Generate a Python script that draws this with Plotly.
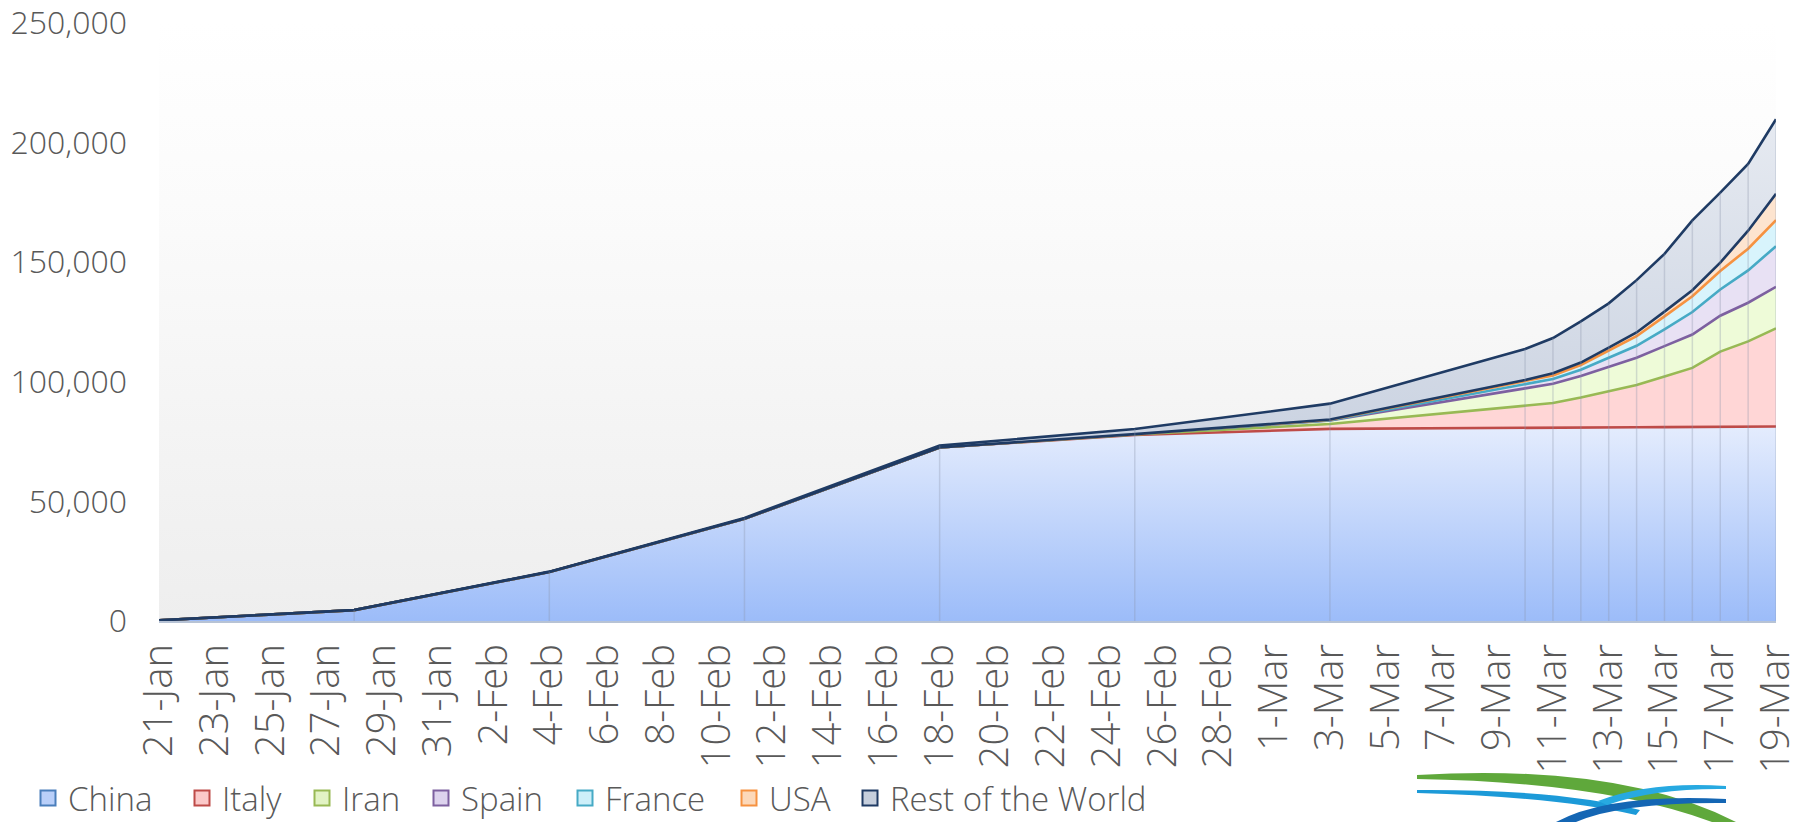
import plotly.graph_objects as go

# ---------------- data ----------------
dates = ["2020-01-21", "2020-01-28", "2020-02-04", "2020-02-11", "2020-02-18",
         "2020-02-25", "2020-03-03", "2020-03-10", "2020-03-11", "2020-03-12",
         "2020-03-13", "2020-03-14", "2020-03-15", "2020-03-16", "2020-03-17",
         "2020-03-18", "2020-03-19"]

china = [278, 4537, 20471, 42708, 72528, 77780, 80304, 80924, 80955, 80981,
         80991, 81021, 81048, 81077, 81116, 81174, 81300]
italy = [0, 0, 0, 0, 3, 229, 2036, 9172, 10149, 12462, 15113, 17660, 21157,
         24747, 31506, 35713, 41035]
iran = [0, 0, 0, 0, 0, 61, 1501, 7161, 8042, 9000, 10075, 11364, 12729,
        13938, 14991, 16169, 17361]
spain = [0, 0, 0, 2, 2, 2, 114, 1700, 2000, 2600, 3900, 5000, 7000, 9400,
         11000, 13500, 17000]
france = [0, 0, 6, 11, 12, 12, 191, 1200, 1500, 2000, 2800, 4000, 5400, 6600,
          7700, 9100, 10900]
usa = [0, 0, 11, 13, 15, 53, 64, 600, 900, 1000, 1400, 1600, 2000, 2500,
       3500, 7500, 11000]
rest_of_world = [4, 56, 142, 369, 772, 2102, 6660, 12950, 14750, 17260, 18520,
                 21860, 24160, 29230, 29280, 27950, 31200]

series_names = ["China", "Italy", "Iran", "Spain", "France", "USA", "Rest of the World"]
series_values = [china, italy, iran, spain, france, usa, rest_of_world]

y_max = 250000
y_step = 50000

# ---------------- styles ----------------
line_colors = ["#4a7ebb", "#be4b48", "#98b954", "#7d60a0", "#46aac5", "#f69240", "#1f3b64"]
fill_colors = ["#c3d6fb", "#ffd6d6", "#eefbd8", "#e8e1f4", "#d8f4fc", "#fde4cf", "#d8dee9"]
legend_fill = ["#b9cff9", "#fbc9c9", "#e2f3c4", "#ddd3ee", "#cdeff9", "#fcd8b9", "#c6cfdd"]
legend_x_px = [28, 182, 302, 421, 565, 729, 850]   # left edge of each legend entry (px)
FONT = "Open Sans"
TXT = "#595959"

W, H = 1807, 822
L, R, T, B = 159, 31, 23, 201
PW, PH = W - L - R, H - T - B

totals = [sum(v) for v in zip(*series_values)]

fig = go.Figure()

# plot-area gradient background (spans the axis range)
fig.add_trace(go.Scatter(
    x=[dates[0], dates[-1]], y=[y_max, y_max], mode="none", fill="tozeroy",
    fillgradient=dict(type="vertical", start=0, stop=y_max,
                      colorscale=[[0, "#eeeeee"], [0.7, "#fbfbfb"], [1, "#ffffff"]]),
    showlegend=False, hoverinfo="skip"))

# stacked areas; each visible boundary takes the colour of the series above it
china_top = max(china)
for i, (name, vals) in enumerate(zip(series_names, series_values)):
    above = line_colors[i + 1] if i + 1 < len(line_colors) else line_colors[i]
    kw = dict(fillcolor=fill_colors[i])
    if i == 0:
        kw = dict(fillgradient=dict(type="vertical", start=0, stop=china_top,
                                    colorscale=[[0, "#9cbcf9"], [1, "#e4ecfd"]]))
    elif i == len(series_names) - 1:
        kw = dict(fillgradient=dict(type="vertical", start=china_top, stop=max(totals),
                                    colorscale=[[0, "#ccd4e2"], [1, "#e6eaf1"]]))
    fig.add_trace(go.Scatter(
        x=dates, y=vals, name=name, stackgroup="one", mode="lines",
        line=dict(color=above, width=2.6), showlegend=False, **kw))

# drop lines at every data point
dx, dy = [], []
for d, t in zip(dates, totals):
    dx += [d, d, None]
    dy += [0, t, None]
fig.add_trace(go.Scatter(x=dx, y=dy, mode="lines",
                         line=dict(color="rgba(140,150,170,0.32)", width=1.5),
                         showlegend=False, hoverinfo="skip"))

# legend entries, one small legend per series so spacing matches the original
legend_layouts = {}
for i, name in enumerate(series_names):
    key = "legend" if i == 0 else f"legend{i + 1}"
    fig.add_trace(go.Scatter(
        x=[None], y=[None], mode="markers", name=name, legend=key,
        marker=dict(symbol="square", size=15, color=legend_fill[i],
                    line=dict(color=line_colors[i], width=2))))
    legend_layouts[key] = dict(
        orientation="h", xref="container", yref="container",
        x=legend_x_px[i] / W, y=(H - 798) / H, xanchor="left", yanchor="middle",
        font=dict(family=FONT, size=33, color=TXT, weight=300),
        bgcolor="rgba(0,0,0,0)", borderwidth=0)


# ---------------- logo (decorative) ----------------
def P(px, py):
    return f"{(px - L) / PW:.5f},{(H - B - py) / PH:.5f}"


shapes = [
    dict(type="path", xref="paper", yref="paper", line=dict(width=0),
         fillcolor="#5fa83b",
         path=f"M{P(1417,775)} Q{P(1620,763)} {P(1736,822)} L{P(1712,822)} Q{P(1605,782)} {P(1417,779)} Z"),
    dict(type="path", xref="paper", yref="paper", line=dict(width=0),
         fillcolor="#1c9ad8",
         path=f"M{P(1417,790)} Q{P(1560,789)} {P(1640,810)} L{P(1636,815)} Q{P(1560,797)} {P(1417,793)} Z"),
    dict(type="path", xref="paper", yref="paper", line=dict(width=0),
         fillcolor="#1466b4",
         path=f"M{P(1556,822)} Q{P(1610,793)} {P(1726,799)} L{P(1726,803)} Q{P(1622,802)} {P(1576,822)} Z"),
    dict(type="path", xref="paper", yref="paper", line=dict(width=0),
         fillcolor="#27a9e1",
         path=f"M{P(1598,801)} Q{P(1650,781)} {P(1726,786)} L{P(1726,789)} Q{P(1655,788)} {P(1607,805)} Z"),
]

fig.update_layout(
    width=W, height=H,
    margin=dict(l=L, r=R, t=T, b=B, autoexpand=False),
    paper_bgcolor="white", plot_bgcolor="white",
    font=dict(family=FONT, color=TXT, size=32, weight=300),
    shapes=shapes,
    showlegend=True,
    xaxis=dict(type="date", range=[dates[0], dates[-1]], automargin=False,
               tick0=dates[0], dtick=2 * 86400000, tickformat="%-d-%b",
               tickangle=-90, showgrid=False, zeroline=False,
               showline=True, linecolor="#b7c3d5", linewidth=2,
               ticks="", ticklabelstandoff=5,
               tickfont=dict(family=FONT, size=40, color=TXT, weight=300)),
    yaxis=dict(range=[0, y_max], dtick=y_step, tick0=0, tickformat=",d",
               automargin=False,
               showgrid=False, zeroline=False, showline=False, ticks="",
               ticklabelstandoff=31,
               tickfont=dict(family=FONT, size=32, color=TXT, weight=300)),
    **legend_layouts,
)

fig.write_html("out.html",
               config={"displayModeBar": False},
               post_script="document.body.style.margin='0';document.body.style.overflow='hidden';")
